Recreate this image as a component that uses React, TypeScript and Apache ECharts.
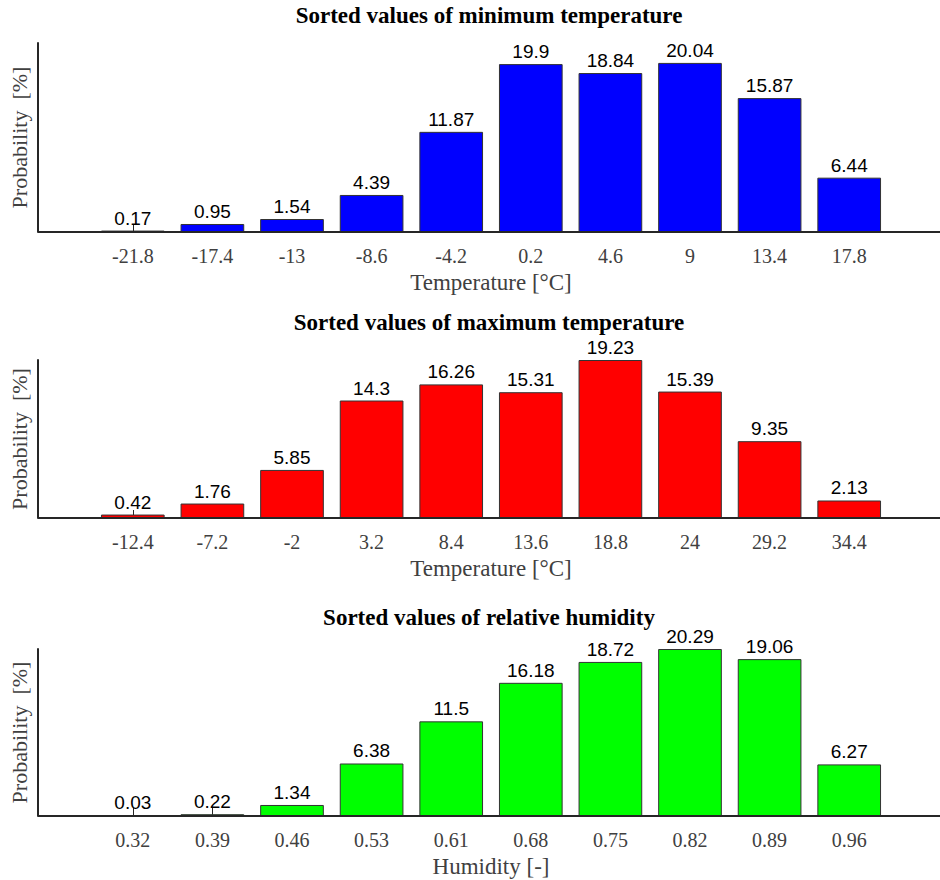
import React, { useEffect, useRef } from "react";
import * as echarts from "echarts";

const minTempCategories = ["-21.8", "-17.4", "-13", "-8.6", "-4.2", "0.2", "4.6", "9", "13.4", "17.8"];
const minTempValues = [0.17, 0.95, 1.54, 4.39, 11.87, 19.9, 18.84, 20.04, 15.87, 6.44];

const maxTempCategories = ["-12.4", "-7.2", "-2", "3.2", "8.4", "13.6", "18.8", "24", "29.2", "34.4"];
const maxTempValues = [0.42, 1.76, 5.85, 14.3, 16.26, 15.31, 19.23, 15.39, 9.35, 2.13];

const humidityCategories = ["0.32", "0.39", "0.46", "0.53", "0.61", "0.68", "0.75", "0.82", "0.89", "0.96"];
const humidityValues = [0.03, 0.22, 1.34, 6.38, 11.5, 16.18, 18.72, 20.29, 19.06, 6.27];

const titles = [
  "Sorted values of minimum temperature",
  "Sorted values of maximum temperature",
  "Sorted values of relative humidity",
];
const xNames = ["Temperature [°C]", "Temperature [°C]", "Humidity [-]"];
const yName = "Probability  [%]";
const yMaxes = [22.4, 19.23, 20.29];
const colors = ["#0000ff", "#ff0000", "#00ff00"];

export default function App() {
  const ref = useRef<HTMLDivElement>(null);
  useEffect(() => {
    document.body.style.margin = "0";
    const chart = echarts.init(ref.current!, null, { renderer: "svg" });
    const cats = [minTempCategories, maxTempCategories, humidityCategories];
    const vals = [minTempValues, maxTempValues, humidityValues];
    const panels = [
      { top: 43, height: 189, titleTop: 4 },
      { top: 360, height: 158, titleTop: 311 },
      { top: 649, height: 167, titleTop: 606 },
    ];
    const serif = "'Liberation Serif', 'Times New Roman', serif";
    const sans = "'Liberation Sans', Arial, sans-serif";
    const gridLeft = 93;
    const gridRight = 51;
    const axisColor = "#262626";
    const textGrey = "#404040";

    const option: any = {
      animation: false,
      backgroundColor: "#ffffff",
      title: panels.map((p, i) => ({
        text: titles[i],
        left: 489,
        top: p.titleTop,
        textAlign: "center",
        padding: 0,
        textStyle: { fontFamily: serif, fontWeight: "bold", fontSize: 23, color: "#000" },
      })),
      grid: panels.map((p) => ({
        left: gridLeft,
        right: gridRight,
        top: p.top,
        height: p.height,
        containLabel: false,
      })),
      xAxis: panels.map((p, i) => ({
        type: "category",
        gridIndex: i,
        data: cats[i],
        boundaryGap: true,
        axisLine: { show: false },
        axisTick: {
          show: true,
          inside: true,
          length: 8,
          alignWithLabel: true,
          lineStyle: { color: axisColor, width: 1 },
        },
        axisLabel: {
          margin: 14,
          fontFamily: serif,
          fontSize: 20,
          color: textGrey,
        },
        name: xNames[i],
        nameLocation: "middle",
        nameGap: 39,
        nameTextStyle: { fontFamily: serif, fontSize: 23, color: textGrey },
        splitLine: { show: false },
      })),
      yAxis: panels.map((p, i) => ({
        type: "value",
        gridIndex: i,
        min: 0,
        max: yMaxes[i],
        position: "left",
        offset: gridLeft - 38,
        axisLine: { show: true, lineStyle: { color: axisColor, width: 2 } },
        axisTick: { show: false },
        axisLabel: { show: false },
        splitLine: { show: false },
        name: yName,
        nameLocation: "middle",
        nameGap: 8,
        nameTextStyle: { fontFamily: serif, fontSize: 22, color: textGrey },
      })),
      series: panels.map((p, i) => ({
        type: "bar",
        xAxisIndex: i,
        yAxisIndex: i,
        data: vals[i],
        barWidth: "80%",
        itemStyle: { color: colors[i], borderColor: "#333333", borderWidth: 1 },
        label: {
          show: true,
          position: "top",
          distance: 3,
          fontFamily: sans,
          fontSize: 19,
          color: "#000",
        },
      })),
      graphic: panels.map((p) => ({
        type: "line",
        shape: { x1: 38, y1: p.top + p.height, x2: 940, y2: p.top + p.height },
        style: { stroke: axisColor, lineWidth: 2 },
        z: 10,
      })),
    };
    chart.setOption(option);
    return () => chart.dispose();
  }, []);
  return <div ref={ref} style={{ width: 940, height: 880 }} />;
}
